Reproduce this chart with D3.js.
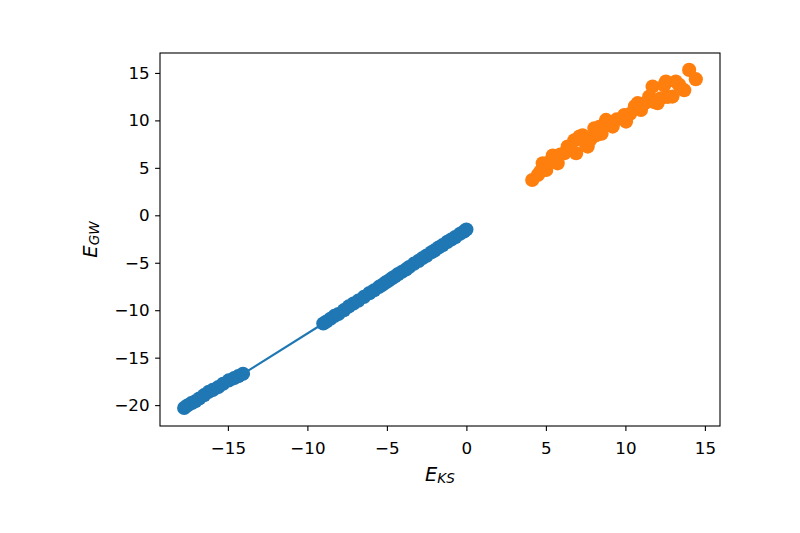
<!DOCTYPE html>
<html><head><meta charset="utf-8">
<script src="https://cdn.jsdelivr.net/npm/d3@7"></script>
<style>body{margin:0;background:#fff}svg{display:block}text{font-family:"DejaVu Sans",sans-serif}</style>
</head><body><svg id="c" width="800" height="533"></svg>
<script>
const blueX = [-17.75,-17.55,-17.3,-17.05,-16.8,-16.5,-16.2,-15.95,-15.6,-15.3,-14.95,-14.6,-14.35,-14.05,
  -9.0,-8.8,-8.55,-8.3,-8.05,-7.7,-7.4,-7.1,-6.8,-6.45,-6.1,-5.8,-5.5,-5.3,-5.1,-4.9,-4.7,-4.5,-4.3,-4.05,
  -3.8,-3.6,-3.3,-3.0,-2.75,-2.5,-2.2,-2.0,-1.75,-1.5,-1.2,-0.95,-0.7,-0.4,-0.15,0.0];
const blueY = [-20.3,-20.05,-19.8,-19.6,-19.3,-18.95,-18.6,-18.4,-18.1,-17.75,-17.4,-17.15,-16.95,-16.7,
  -11.4,-11.2,-10.9,-10.6,-10.4,-10.0,-9.6,-9.3,-9.0,-8.6,-8.2,-7.9,-7.55,-7.35,-7.1,-6.9,-6.65,-6.45,-6.2,-5.95,
  -5.7,-5.45,-5.1,-4.8,-4.5,-4.25,-3.9,-3.7,-3.4,-3.15,-2.8,-2.55,-2.3,-1.95,-1.7,-1.5];
const orangeX = [4.14,4.49,4.65,4.80,4.85,5.02,5.2,5.43,5.54,5.74,5.9,6.16,6.37,6.5,6.79,6.90,7.11,7.31,7.53,7.63,7.8,
  8.05,8.15,8.36,8.5,8.78,9.0,9.20,9.45,9.93,10.04,10.3,10.6,10.77,10.98,11.2,11.5,11.71,11.8,12.02,12.23,12.44,12.55,
  12.65,12.96,13.17,13.38,13.70,14.01,14.43];
const orangeY = [3.72,4.25,4.6,5.48,5.1,4.78,5.6,6.3,6.19,5.48,6.4,6.54,7.24,6.9,7.9,6.54,8.30,8.43,7.38,7.24,8.0,
  9.17,8.43,9.31,8.6,10.05,9.6,9.35,10.1,10.57,9.88,10.7,11.5,11.81,11.10,11.8,12.51,13.57,11.94,11.81,12.33,13.7,14.09,
  12.47,12.51,14.09,13.74,13.18,15.32,14.34];
const xTicks = [-15,-10,-5,0,5,10,15];
const yTicks = [-20,-15,-10,-5,0,5,10,15];

const svg = d3.select("#c");
const L=160,R=720,T=53,B=426;
const x = d3.scaleLinear().domain([-19.27,15.95]).range([L,R]);
const y = d3.scaleLinear().domain([-22.2,17.1]).range([B,T]);
const fmt = d => d<0 ? "\u2212"+Math.abs(d) : ""+d;

const blue = blueX.map((v,i)=>[v,blueY[i]]);
const orange = orangeX.map((v,i)=>[v,orangeY[i]]);

svg.append("path").datum(blue).attr("fill","none").attr("stroke","#1f77b4").attr("stroke-width",2.1)
  .attr("d",d3.line().x(d=>x(d[0])).y(d=>y(d[1])));
svg.append("g").selectAll("circle").data(blue).join("circle")
  .attr("cx",d=>x(d[0])).attr("cy",d=>y(d[1])).attr("r",7.1).attr("fill","#1f77b4");
svg.append("g").selectAll("circle").data(orange).join("circle")
  .attr("cx",d=>x(d[0])).attr("cy",d=>y(d[1])).attr("r",7.1).attr("fill","#ff7f0e");

const xa = svg.append("g").attr("transform",`translate(0,${B})`)
  .call(d3.axisBottom(x).tickValues(xTicks).tickFormat(fmt).tickSizeOuter(0).tickSize(4.9).tickPadding(11));
const ya = svg.append("g").attr("transform",`translate(${L},0)`)
  .call(d3.axisLeft(y).tickValues(yTicks).tickFormat(fmt).tickSizeOuter(0).tickSize(4.9).tickPadding(5.5));
[xa,ya].forEach(a=>{a.select(".domain").remove();a.selectAll("line").attr("stroke","#000").attr("stroke-width",1.1);
  a.selectAll("text").attr("font-size",16.7).attr("fill","#000").attr("font-family","DejaVu Sans");});

svg.append("rect").attr("x",L).attr("y",T).attr("width",R-L).attr("height",B-T)
  .attr("fill","none").attr("stroke","#000").attr("stroke-width",1.1);

const xl = svg.append("text").attr("x",(L+R)/2).attr("y",480.5).attr("text-anchor","middle")
  .attr("font-size",19.4).attr("font-style","italic");
xl.append("tspan").text("E");
xl.append("tspan").attr("font-size",13.6).attr("dy",2.5).text("KS");

const yl = svg.append("text").attr("transform",`translate(96.5,${(T+B)/2}) rotate(-90)`).attr("text-anchor","middle")
  .attr("font-size",19.4).attr("font-style","italic");
yl.append("tspan").text("E");
yl.append("tspan").attr("font-size",13.6).attr("dy",2.5).text("GW");
</script></body></html>
